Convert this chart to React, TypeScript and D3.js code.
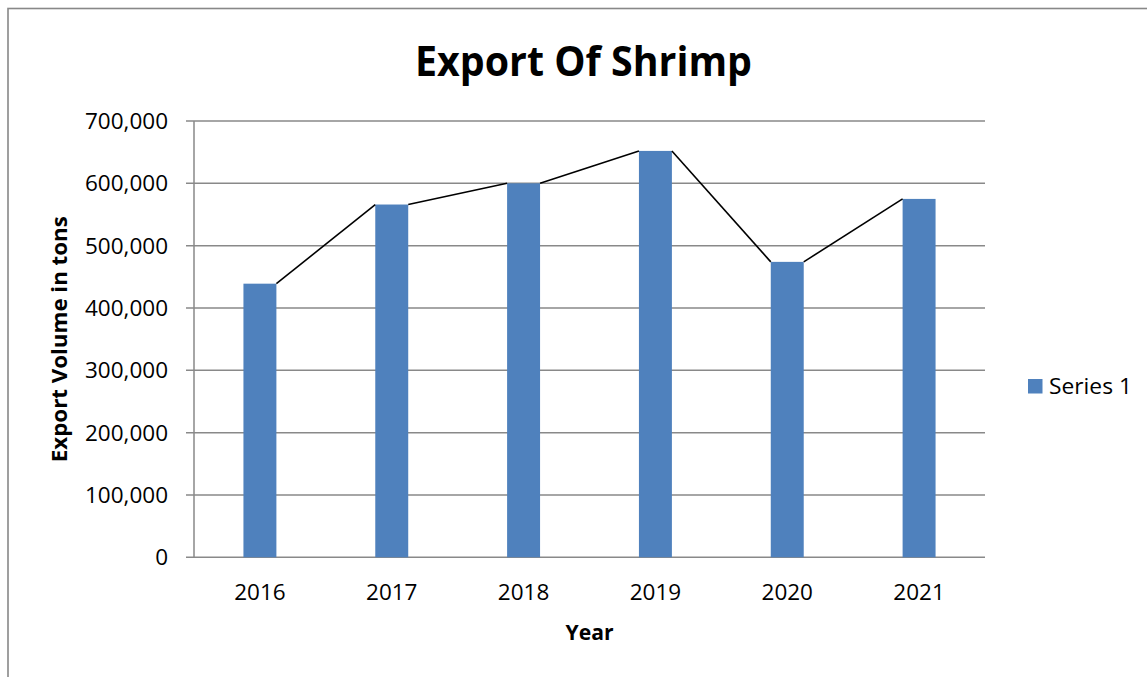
import React from "react";
import * as d3 from "d3";

const years = ["2016", "2017", "2018", "2019", "2020", "2021"];
const exportVolume = [439000, 566000, 600000, 652000, 474000, 575000];
const yTicks = [0, 100000, 200000, 300000, 400000, 500000, 600000, 700000];
const seriesName = "Series 1";
const chartTitle = "Export Of Shrimp";
const xTitle = "Year";
const yTitle = "Export Volume in tons";

const W = 1147;
const H = 677;
const left = 194;
const right = 985;
const top = 121;
const bottom = 557.3;
const barColor = "#4F81BD";
const gridColor = "#898989";
const font = "'Open Sans', 'Noto Sans', sans-serif";

export default function App() {
  const x = d3.scaleBand<string>().domain(years).range([left, right]).padding(0);
  const y = d3.scaleLinear().domain([0, 700000]).range([bottom, top]);
  const step = x.step();
  const bw = step * 0.25;
  const fmt = d3.format(",");

  const bars = years.map((yr, i) => {
    const x0 = (x(yr) as number) + (step - bw) / 2;
    return { yr, x0, x1: x0 + bw, yv: y(exportVolume[i]) };
  });

  const seriesLines = bars.slice(0, -1).map((b, i) => {
    const n = bars[i + 1];
    return d3.line()([
      [b.x1, b.yv],
      [n.x0, n.yv],
    ]);
  });

  return (
    <svg
      width={W}
      height={H}
      style={{ position: "absolute", left: 0, top: 0, display: "block", background: "#fff" }}
      fontFamily={font}
    >
      <rect x={8} y={8.5} width={W + 10} height={H + 10} fill="#fff" stroke="#888" strokeWidth={1.6} />

      <text x={583.5} y={75.5} textAnchor="middle" fontSize={42} fontWeight="bold" fill="#000" textLength={337} lengthAdjust="spacingAndGlyphs">
        {chartTitle}
      </text>

      {yTicks.map((t) => (
        <g key={t}>
          <line x1={left - 8} x2={right} y1={y(t)} y2={y(t)} stroke={gridColor} strokeWidth={1.5} />
          <text x={168} y={y(t) + 8} textAnchor="end" fontSize={22.5} fill="#000">
            {fmt(t)}
          </text>
        </g>
      ))}
      <line x1={left} x2={left} y1={top} y2={bottom} stroke={gridColor} strokeWidth={1.5} />

      {bars.map((b) => (
        <rect key={b.yr} x={b.x0} y={b.yv} width={b.x1 - b.x0} height={bottom - b.yv} fill={barColor} />
      ))}

      {seriesLines.map((d, i) => (
        <path key={i} d={d || ""} stroke="#000" strokeWidth={1.6} fill="none" />
      ))}

      {years.map((yr) => (
        <text key={yr} x={(x(yr) as number) + step / 2} y={600} textAnchor="middle" fontSize={22.5} fill="#000">
          {yr}
        </text>
      ))}

      <text x={(left + right) / 2} y={640} textAnchor="middle" fontSize={21.5} fontWeight="bold" fill="#000" textLength={48} lengthAdjust="spacingAndGlyphs">
        {xTitle}
      </text>

      <text
        transform={`translate(67,${(top + bottom) / 2}) rotate(-90)`}
        textAnchor="middle"
        fontSize={21.5}
        fontWeight="bold"
        fill="#000"
        textLength={246}
        lengthAdjust="spacingAndGlyphs"
      >
        {yTitle}
      </text>

      <rect x={1028} y={379} width={14.5} height={14.5} fill={barColor} />
      <text x={1049} y={393.5} fontSize={22.5} fill="#000" textLength={83} lengthAdjust="spacingAndGlyphs">
        {seriesName}
      </text>
    </svg>
  );
}
